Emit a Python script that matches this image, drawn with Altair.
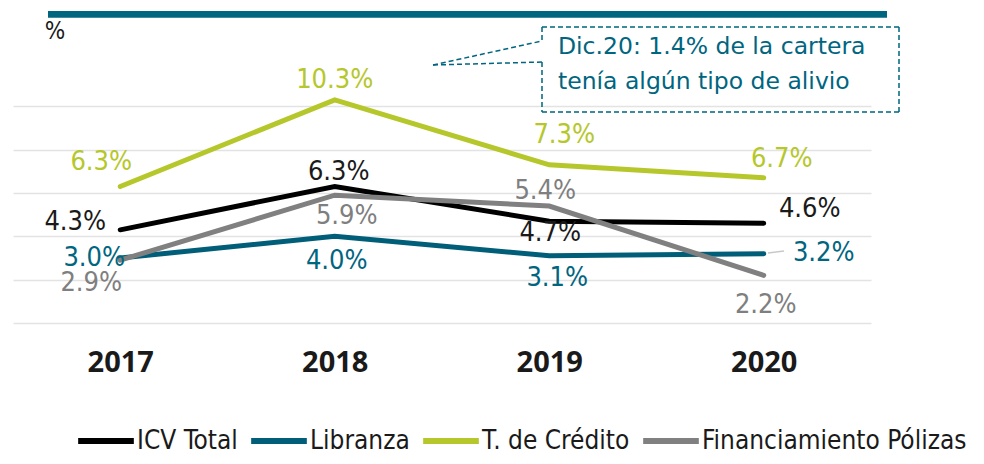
import altair as alt
import pandas as pd

# ---------------- data ----------------
years = ["2017", "2018", "2019", "2020"]
series_names = ["ICV Total", "Libranza", "T. de Crédito", "Financiamiento Pólizas"]
icv_total = [4.3, 6.3, 4.7, 4.6]
libranza = [3.0, 4.0, 3.1, 3.2]
t_credito = [6.3, 10.3, 7.3, 6.7]
polizas = [2.9, 5.9, 5.4, 2.2]
note_lines = ["Dic.20: 1.4% de la cartera", "tenía algún tipo de alivio"]
unit_label = "%"

# ---------------- styles / layout ----------------
line_colors = ["#000000", "#005E78", "#B6C72B", "#808080"]
label_colors = ["#1A1A1A", "#00657F", "#B6C72B", "#7F7F7F"]
teal = "#00657F"

# label offsets (px) per series, per year
label_offsets = {
    "ICV Total": [(-45, -8), (4, -15), (1, 12), (46, -14)],
    "Libranza": [(-26, 0), (2, 25), (8, 22), (60, -1)],
    "T. de Crédito": [(-19, -25), (0, -20), (15, -30), (18, -19)],
    "Financiamiento Pólizas": [(-29, 23), (12, 21), (-4, -15), (2, 30)],
}

rows = []
for name, vals in zip(series_names, [icv_total, libranza, t_credito, polizas]):
    for yr, v in zip(years, vals):
        rows.append({"year": yr, "series": name, "value": v, "label": f"{v:.1f}%"})
df = pd.DataFrame(rows)

W, H = 858, 260

x_enc = alt.X(
    "year:O",
    scale=alt.Scale(type="point", padding=0.5),
    axis=alt.Axis(
        title=None, domain=False, ticks=False, labelAngle=0, labelFontSize=29,
        labelFont="Open Sans", labelFontWeight="bold", labelColor="#1A1A1A",
        labelPadding=25, grid=False,
    ),
)
y_enc = alt.Y(
    "value:Q",
    scale=alt.Scale(domain=[0, 12], nice=False),
    axis=alt.Axis(
        title=None, values=[0, 2, 4, 6, 8, 10], labels=False, ticks=False,
        domain=False, grid=True, gridColor="#E3E3E3", gridWidth=1.5,
    ),
)

base = alt.Chart(df)

lines = base.mark_line(strokeWidth=5, strokeCap="round").encode(
    x=x_enc,
    y=y_enc,
    color=alt.Color(
        "series:N",
        scale=alt.Scale(domain=series_names, range=line_colors),
        sort=series_names,
        legend=alt.Legend(
            title=None, orient="none", legendX=62, legendY=347,
            direction="horizontal", columns=4, symbolType="stroke",
            symbolSize=3100, symbolStrokeWidth=6, labelFont="DejaVu Sans Condensed",
            labelFontSize=26, labelColor="#1A1A1A", labelOffset=0,
            columnPadding=1, padding=0, labelLimit=400,
        ),
    ),
    order=alt.Order("series_order:Q"),
).transform_calculate(
    series_order="indexof(" + str(series_names) + ", datum.series)"
)

label_layers = []
for name, col in zip(series_names, label_colors):
    for yr, (dx, dy) in zip(years, label_offsets[name]):
        label_layers.append(
            base.transform_filter(
                (alt.datum.series == name) & (alt.datum.year == yr)
            ).mark_text(
                dx=dx, dy=dy, align="center", baseline="middle",
                font="DejaVu Sans Condensed", fontSize=27, color=col,
            ).encode(x=alt.X("year:O"), y=alt.Y("value:Q"), text="label:N")
        )

one = pd.DataFrame({"k": [0]})


def seg(x0, y0, x1, y1, color, width, dash=None, cap="butt"):
    kw = dict(color=color, strokeWidth=width, strokeCap=cap)
    if dash:
        kw["strokeDash"] = dash
    return alt.Chart(one).mark_rule(**kw).encode(
        x=alt.value(x0), y=alt.value(y0), x2=alt.value(x1), y2=alt.value(y1)
    )


dash = [5, 3]
deco = [
    seg(35, -48.7, 874, -48.7, teal, 6.7),
    seg(529, -36, 886, -36, teal, 1.5, dash),
    seg(886, -36, 886, 49, teal, 1.5, dash),
    seg(529, 49, 886, 49, teal, 1.5, dash),
    seg(529, -36, 529, -22, teal, 1.5, dash),
    seg(529, -1, 529, 49, teal, 1.5, dash),
    seg(420, 2, 529, -22, teal, 1.5, dash),
    seg(420, 2, 529, -1, teal, 1.5, dash),
    seg(755, 190, 771, 188, "#C8C8C8", 1.5),
]

texts = [
    alt.Chart(one).mark_text(
        text=unit_label, align="center", baseline="middle",
        font="DejaVu Sans Condensed", fontSize=24, color="#1A1A1A",
    ).encode(x=alt.value(42), y=alt.value(-31)),
    alt.Chart(one).mark_text(
        text=note_lines[0], align="left", baseline="alphabetic",
        font="DejaVu Sans", fontSize=23.5, color=teal,
    ).encode(x=alt.value(545), y=alt.value(-9)),
    alt.Chart(one).mark_text(
        text=note_lines[1], align="left", baseline="alphabetic",
        font="DejaVu Sans", fontSize=23.5, color=teal,
    ).encode(x=alt.value(545), y=alt.value(26)),
]

chart = alt.layer(lines, *label_layers, *deco, *texts).properties(
    width=W,
    height=H,
    padding={"left": 5, "top": 55, "right": 105, "bottom": 133},
    autosize=alt.AutoSizeParams(type="none"),
).configure_view(strokeWidth=0)

chart.save("out.html", embed_options={"renderer": "svg", "actions": False})
